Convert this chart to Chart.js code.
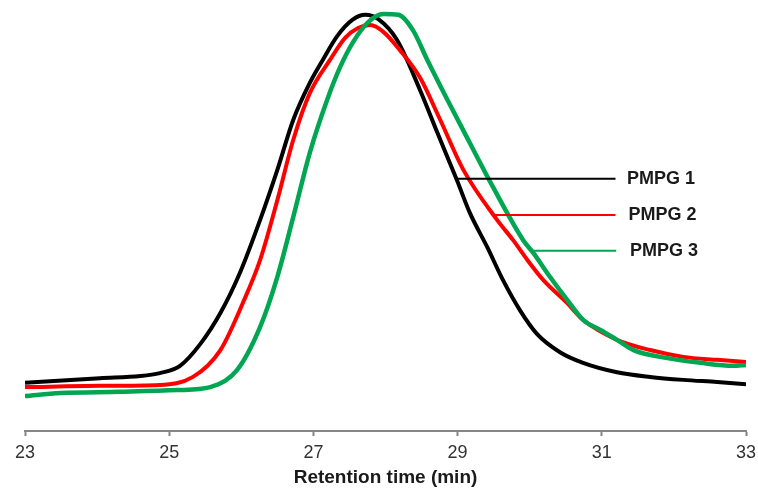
<!DOCTYPE html>
<html>
<head>
<meta charset="utf-8">
<title>PMPG SEC traces</title>
<script src="https://cdn.jsdelivr.net/npm/chart.js@4.4.1/dist/chart.umd.min.js"></script>
<style>
    html, body { margin: 0; padding: 0; background: #fff; }
    #wrap { width: 758px; height: 496px; }
</style>
</head>
<body>
<div id="wrap"><canvas id="chart-sec" width="758" height="496"></canvas></div>
<script>
// Retention time (min) and detector signal (arb. units)
const pmpg1Time   = [23.0, 24.04, 24.60, 24.87, 25.15, 25.43, 25.71, 25.98, 26.26, 26.50, 26.72, 26.95, 27.13, 27.33, 27.54, 27.72, 27.90, 28.16, 28.48, 28.72, 28.99, 29.17, 29.41, 29.63, 29.87, 30.10, 30.42, 30.74, 31.21, 31.67, 32.13, 32.60, 33.0];
const pmpg1Signal = [11.3, 12.4, 12.9, 13.6, 15.3, 20.4, 27.7, 37.1, 49.5, 61.3, 73.0, 81.7, 87.1, 92.7, 96.5, 97.7, 96.7, 91.8, 80.0, 70.0, 58.9, 51.2, 43.2, 35.4, 28.2, 22.8, 18.5, 16.0, 13.8, 12.7, 12.0, 11.5, 11.0];

const pmpg2Time   = [23.0, 24.04, 24.87, 25.33, 25.71, 26.02, 26.26, 26.50, 26.72, 26.95, 27.23, 27.44, 27.62, 27.79, 27.97, 28.20, 28.48, 28.76, 29.08, 29.55, 29.77, 29.97, 30.19, 30.52, 30.74, 31.21, 31.67, 32.13, 32.60, 33.0];
const pmpg2Signal = [10.3, 10.6, 10.8, 12.7, 19.0, 30.0, 40.1, 54.2, 68.3, 79.3, 87.1, 92.3, 94.6, 95.3, 93.7, 89.4, 82.9, 73.0, 61.3, 49.5, 44.8, 40.1, 35.4, 30.0, 26.1, 21.4, 19.0, 17.4, 16.7, 16.2];

const pmpg3Time   = [23.0, 23.49, 24.32, 25.11, 25.57, 25.94, 26.26, 26.50, 26.72, 26.95, 27.19, 27.37, 27.55, 27.76, 27.97, 28.18, 28.38, 28.58, 28.86, 29.17, 29.49, 29.91, 30.05, 30.28, 30.52, 30.74, 30.98, 31.21, 31.44, 31.91, 32.37, 32.82, 33.0];
const pmpg3Signal = [8.2, 8.9, 9.2, 9.6, 10.3, 14.3, 24.4, 36.2, 50.2, 65.3, 77.7, 85.4, 91.3, 96.0, 97.9, 97.7, 94.1, 87.1, 77.7, 67.6, 57.3, 44.8, 41.8, 36.2, 30.8, 26.1, 23.7, 21.4, 19.0, 17.1, 16.0, 15.3, 15.5];

// Series names and leader lines to the labels
const seriesNames  = ["PMPG 1", "PMPG 2", "PMPG 3"];
const seriesColors = ["#000000", "#ff0000", "#00a651"];
const leaderStart  = [29.0, 29.52, 30.03];
const leaderEnd    = [31.19, 31.19, 31.2];
const leaderLevel  = [59.2, 50.7, 42.3];
const labelTime    = [31.35, 31.37, 31.39];

const xTicks = [23, 25, 27, 29, 31, 33];

const FONT = "'Liberation Sans', Arial, sans-serif";

function toPoints(times, values) {
    return times.map((t, i) => ({ x: t, y: values[i] }));
}

// draws "PMPG n" at the end of each leader line
const seriesLabels = {
    id: 'seriesLabels',
    afterDatasetsDraw(chart) {
        const { ctx, scales: { x, y } } = chart;
        ctx.save();
        ctx.font = `bold 18px ${FONT}`;
        ctx.fillStyle = '#1a1a1a';
        ctx.textAlign = 'left';
        ctx.textBaseline = 'middle';
        seriesNames.forEach((name, i) => {
            ctx.fillText(name, x.getPixelForValue(labelTime[i]), y.getPixelForValue(leaderLevel[i]));
        });
        ctx.restore();
    }
};

const curves = [
    { data: toPoints(pmpg1Time, pmpg1Signal), width: 4, order: 2 },
    { data: toPoints(pmpg2Time, pmpg2Signal), width: 4, order: 1 },
    { data: toPoints(pmpg3Time, pmpg3Signal), width: 4.5, order: 0 }
];

const datasets = [];
curves.forEach((c, i) => {
    datasets.push({
        label: seriesNames[i],
        data: c.data,
        borderColor: seriesColors[i],
        borderWidth: c.width,
        pointRadius: 0,
        cubicInterpolationMode: 'monotone',
        order: c.order + 3
    });
});
seriesNames.forEach((name, i) => {
    datasets.push({
        label: name + ' leader',
        data: [{ x: leaderStart[i], y: leaderLevel[i] }, { x: leaderEnd[i], y: leaderLevel[i] }],
        borderColor: seriesColors[i],
        borderWidth: 2,
        pointRadius: 0,
        order: i
    });
});

new Chart(document.getElementById('chart-sec').getContext('2d'), {
    type: 'line',
    data: { datasets },
    options: {
        responsive: false,
        animation: false,
        layout: { padding: { left: 25, right: 12, top: 5, bottom: 10 } },
        plugins: {
            legend: { display: false },
            tooltip: { enabled: false }
        },
        scales: {
            x: {
                type: 'linear',
                min: 23,
                max: 33,
                afterBuildTicks: axis => { axis.ticks = xTicks.map(v => ({ value: v })); },
                // let the layout padding alone decide the plot edges
                afterFit: axis => { axis.paddingLeft = 0; axis.paddingRight = 0; },
                border: { display: true, color: '#858585', width: 2 },
                grid: { drawOnChartArea: false, drawTicks: true, tickLength: 5, tickWidth: 2, tickColor: '#858585' },
                ticks: {
                    padding: 6,
                    color: '#333333',
                    font: { family: FONT, size: 18, lineHeight: '22px' }
                },
                title: {
                    display: true,
                    text: 'Retention time (min)',
                    color: '#1a1a1a',
                    padding: { top: 0, bottom: 0 },
                    font: { family: FONT, size: 19, weight: 'bold', lineHeight: '16px' }
                }
            },
            y: {
                display: false,
                min: 0,
                max: 100
            }
        }
    },
    plugins: [seriesLabels]
});
</script>
</body>
</html>
